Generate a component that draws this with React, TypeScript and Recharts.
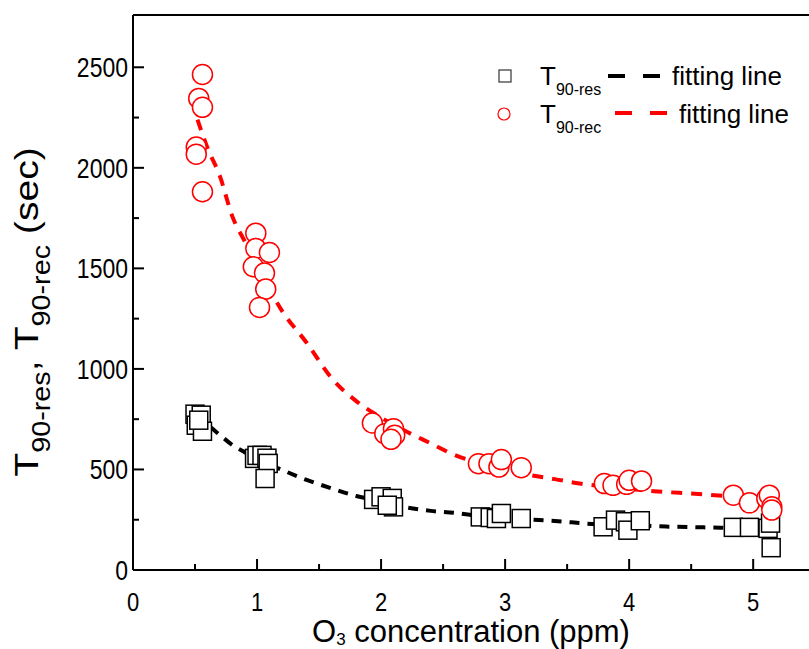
import { ComposedChart, Scatter, Line, XAxis, YAxis, ReferenceLine, Customized } from 'recharts';

// T90-res (black squares)
const resX = [0.5, 0.55, 0.51, 0.56, 0.53, 0.98, 1.0, 1.04, 1.08, 1.09, 1.065, 1.94, 2.0, 2.09, 2.1, 2.05, 2.8, 2.88, 2.93, 2.97, 3.13, 3.79, 3.89, 3.97, 3.99, 4.09, 4.84, 4.97, 5.12, 5.14, 5.145];
const resY = [775, 770, 720, 690, 745, 555, 570, 570, 556, 530, 455, 351, 364, 356, 314, 322, 264, 261, 256, 281, 256, 215, 248, 240, 198, 245, 212, 212, 207, 233, 111];

// T90-rec (red circles)
const recX = [0.56, 0.53, 0.56, 0.51, 0.51, 0.56, 0.99, 0.99, 1.1, 0.97, 1.06, 1.07, 1.02, 1.93, 2.03, 2.1, 2.11, 2.08, 2.785, 2.87, 2.95, 2.97, 3.13, 3.8, 3.87, 3.98, 4.0, 4.1, 4.84, 4.97, 5.11, 5.13, 5.15, 5.15];
const recY = [2464, 2345, 2301, 2103, 2068, 1881, 1675, 1599, 1579, 1508, 1477, 1397, 1306, 731, 678, 703, 670, 650, 529, 529, 512, 549, 509, 430, 421, 426, 446, 443, 372, 334, 356, 372, 314, 298];

// fitting lines
const resFitX = [0.5, 0.6, 0.7, 0.8, 0.9, 1.0, 1.2, 1.4, 1.6, 1.8, 2.0, 2.2, 2.4, 2.6, 2.8, 3.0, 3.2, 3.4, 3.7, 4.0, 4.3, 4.6, 4.9, 5.15];
const resFitY = [757, 722, 672, 622, 586, 552, 498, 448, 406, 368, 343, 312, 294, 284, 268, 258, 251, 244, 229, 224, 216, 212, 208, 206];
const recFitX = [0.52, 0.6, 0.7, 0.8, 0.9, 1.0, 1.2, 1.4, 1.6, 1.8, 2.0, 2.2, 2.4, 2.6, 2.8, 3.0, 3.2, 3.4, 3.6, 3.9, 4.2, 4.5, 4.8, 5.15];
const recFitY = [2240, 2100, 1960, 1760, 1635, 1515, 1290, 1130, 955, 840, 758, 690, 630, 570, 530, 498, 472, 452, 430, 410, 392, 380, 368, 358];

const xTicks = [0, 0.5, 1, 1.5, 2, 2.5, 3, 3.5, 4, 4.5, 5];
const yTicks = [0, 250, 500, 750, 1000, 1250, 1500, 1750, 2000, 2250, 2500];

const zip = (xs: number[], ys: number[]) => xs.map((x, i) => ({ x, y: ys[i] }));
const resData = zip(resX, resY);
const recData = zip(recX, recY);
const resFit = zip(resFitX, resFitY);
const recFit = zip(recFitX, recFitY);

const FONT = '"Liberation Sans", Arial, sans-serif';
// the source figure's lettering is a bit taller than it is wide
const STRETCH = 1.2;

const XTick = (props: any) => {
  const { x, y, payload } = props;
  const major = Number.isInteger(payload.value);
  return (
    <g>
      <line x1={x} y1={y} x2={x} y2={y - (major ? 11 : 6)} stroke="#000" strokeWidth={2} />
      {major && (
        <text
          transform={`translate(${x}, ${y + 41}) scale(1, ${STRETCH})`}
          textAnchor="middle"
          fontSize={22}
          fontFamily={FONT}
          fill="#000"
        >
          {payload.value}
        </text>
      )}
    </g>
  );
};

const YTick = (props: any) => {
  const { x, y, payload } = props;
  const major = payload.value % 500 === 0;
  return (
    <g>
      <line x1={x} y1={y} x2={x + (major ? 11 : 6)} y2={y} stroke="#000" strokeWidth={2} />
      {major && (
        <text
          transform={`translate(${x - 5}, ${y + 10}) scale(1, ${STRETCH})`}
          textAnchor="end"
          fontSize={23}
          fontFamily={FONT}
          fill="#000"
        >
          {payload.value}
        </text>
      )}
    </g>
  );
};

const XTitle = (props: any) => {
  const vb = props.viewBox;
  return (
    <text
      x={vb.x + vb.width / 2}
      y={vb.y + 72}
      textAnchor="middle"
      fontSize={31}
      fontFamily={FONT}
      fill="#000"
    >
      O<tspan fontSize={17} dy={3}>3</tspan>
      <tspan dy={-3}> concentration (ppm)</tspan>
    </text>
  );
};

const YTitle = () => (
  <text
    transform="translate(38, 312) rotate(-90) scale(1.15, 1)"
    textAnchor="middle"
    fontSize={34}
    fontFamily={FONT}
    fill="#000"
  >
    T<tspan fontSize={25} dy={12}>90-res</tspan>
    <tspan dy={-12}>, T</tspan>
    <tspan fontSize={25} dy={12}>90-rec</tspan>
    <tspan dy={-12}> (sec)</tspan>
  </text>
);

const Square = (p: any) => (
  <rect x={p.cx - 9} y={p.cy - 9} width={18} height={18} fill="#fff" stroke="#000" strokeWidth={1.5} />
);
const Circle = (p: any) => <circle cx={p.cx} cy={p.cy} r={10} fill="#fff" stroke="#f00" strokeWidth={1.5} />;

const LegendBox = () => (
  <g transform="translate(480, 50)" fontFamily={FONT}>
    <rect x={19} y={20} width={12} height={12} fill="none" stroke="#333" strokeWidth={1.2} />
    <text x={60} y={35} fontSize={26} fill="#000">
      T<tspan fontSize={16} dy={10}>90-res</tspan>
    </text>
    <line x1={128} y1={26} x2={145} y2={26} stroke="#000" strokeWidth={4} />
    <line x1={163} y1={26} x2={180} y2={26} stroke="#000" strokeWidth={4} />
    <text x={192} y={35} fontSize={26} fill="#000">fitting line</text>

    <circle cx={24} cy={64} r={6} fill="none" stroke="#f00" strokeWidth={1.2} />
    <text x={60} y={73} fontSize={26} fill="#000">
      T<tspan fontSize={16} dy={10}>90-rec</tspan>
    </text>
    <line x1={135} y1={63} x2={152} y2={63} stroke="#f00" strokeWidth={4} />
    <line x1={170} y1={63} x2={187} y2={63} stroke="#f00" strokeWidth={4} />
    <text x={199} y={73} fontSize={26} fill="#000">fitting line</text>
  </g>
);

export default function App() {
  return (
    <div style={{ position: 'absolute', left: 0, top: 0, width: 809, height: 649, background: '#fff', overflow: 'hidden' }}>
      <ComposedChart width={809} height={649} margin={{ top: 15, right: 0, bottom: 0, left: 0 }}>
        <XAxis
          dataKey="x"
          type="number"
          domain={[0, 5.45]}
          ticks={xTicks}
          interval={0}
          tickSize={0}
          tickMargin={0}
          tickLine={false}
          tick={<XTick />}
          axisLine={{ stroke: '#000', strokeWidth: 2 }}
          height={79}
          allowDataOverflow
          label={XTitle}
        />
        <YAxis
          dataKey="y"
          type="number"
          domain={[0, 2760]}
          ticks={yTicks}
          interval={0}
          tickSize={0}
          tickMargin={0}
          tickLine={false}
          tick={<YTick />}
          axisLine={{ stroke: '#000', strokeWidth: 2 }}
          width={133}
          allowDataOverflow
          label={YTitle}
        />
        <ReferenceLine y={2760} stroke="#000" strokeWidth={2} />
        <Scatter name="T90-res" data={resData} shape={Square} isAnimationActive={false} />
        <Scatter name="T90-rec" data={recData} shape={Circle} isAnimationActive={false} />
        <Line
          data={resFit}
          dataKey="y"
          type="monotone"
          stroke="#000"
          strokeWidth={4}
          strokeDasharray="10 8"
          dot={false}
          activeDot={false}
          isAnimationActive={false}
        />
        <Line
          data={recFit}
          dataKey="y"
          type="monotone"
          stroke="#f00"
          strokeWidth={4}
          strokeDasharray="11 9"
          dot={false}
          activeDot={false}
          isAnimationActive={false}
        />
        <Customized component={LegendBox} />
      </ComposedChart>
    </div>
  );
}
